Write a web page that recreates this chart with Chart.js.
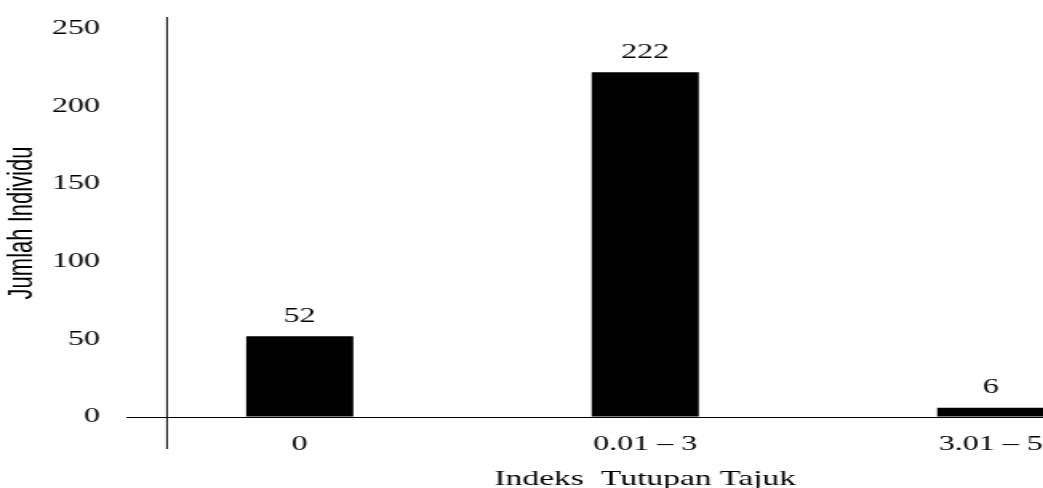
<!DOCTYPE html>
<html>
<head>
<meta charset="utf-8">
<script src="https://cdn.jsdelivr.net/npm/chart.js@4.4.1/dist/chart.umd.min.js"></script>
<style>
  html, body { margin: 0; padding: 0; background: #fff; overflow: hidden; width: 1043px; height: 488px; }
  /* the source picture is stretched sideways, so the chart is drawn narrow and scaled */
  #wrap { width: 729px; height: 488px; transform: scaleX(1.6); transform-origin: 0 0; }
</style>
</head>
<body>
<div id="wrap"><canvas id="chart"></canvas></div>
<script>
const categories = ['0', '0.01 – 3', '3.01 – 5'];
const jumlahIndividu = [52, 222, 6];
const yTicks = [0, 50, 100, 150, 200, 250];

const serif = 'Liberation Serif';

// vertical axis line, sits a bit right of the plot's left edge like the source
const axisLine = {
  id: 'axisLine',
  afterDraw(chart) {
    const ctx = chart.ctx;
    ctx.save();
    ctx.strokeStyle = '#000';
    ctx.lineWidth = 1;
    ctx.beginPath();
    ctx.moveTo(104.4, 17);
    ctx.lineTo(104.4, 449);
    ctx.stroke();
    ctx.restore();
  }
};

// value labels above bars
const barLabels = {
  id: 'barLabels',
  afterDatasetsDraw(chart) {
    const ctx = chart.ctx;
    const meta = chart.getDatasetMeta(0);
    ctx.save();
    ctx.fillStyle = '#000';
    ctx.font = '20px "' + serif + '"';
    ctx.textAlign = 'center';
    ctx.textBaseline = 'middle';
    meta.data.forEach((bar, i) => {
      ctx.fillText(String(jumlahIndividu[i]), bar.x, bar.y - 20);
    });
    ctx.restore();
  }
};

new Chart(document.getElementById('chart'), {
  type: 'bar',
  data: {
    labels: categories,
    datasets: [{
      data: jumlahIndividu,
      backgroundColor: '#000',
      borderWidth: 0,
      categoryPercentage: 1,
      barPercentage: 0.31
    }]
  },
  options: {
    responsive: true,
    maintainAspectRatio: false,
    animation: false,
    layout: { padding: { top: 27, left: 0, right: 1.8, bottom: 0 } },
    plugins: {
      legend: { display: false },
      tooltip: { enabled: false }
    },
    scales: {
      x: {
        grid: { display: false, drawTicks: false },
        border: { display: false },
        ticks: {
          color: '#000',
          padding: 16,
          maxRotation: 0,
          autoSkip: false,
          font: { family: serif, size: 20 }
        },
        title: {
          display: true,
          text: 'Indeks  Tutupan Tajuk',
          color: '#000',
          font: { family: serif, size: 21 },
          padding: { top: 6, bottom: -4 }
        },
        afterFit(s) { s.height = 71; }
      },
      y: {
        min: 0,
        max: 250,
        afterBuildTicks(s) { s.ticks = yTicks.map(v => ({ value: v })); },
        grid: {
          drawTicks: false,
          color: c => (c.tick && c.tick.value === 0) ? '#000' : 'rgba(0,0,0,0)',
          lineWidth: 1
        },
        border: { display: false },
        ticks: {
          color: '#000',
          padding: 16.9,
          font: { family: serif, size: 20 }
        },
        title: {
          display: true,
          text: 'Jumlah Individu',
          color: '#000',
          font: { family: 'Liberation Sans', size: 22 },
          padding: { top: 1.2, bottom: 0 }
        },
        afterFit(s) { s.width = 79.4; }
      }
    }
  },
  plugins: [axisLine, barLabels]
});
</script>
</body>
</html>
